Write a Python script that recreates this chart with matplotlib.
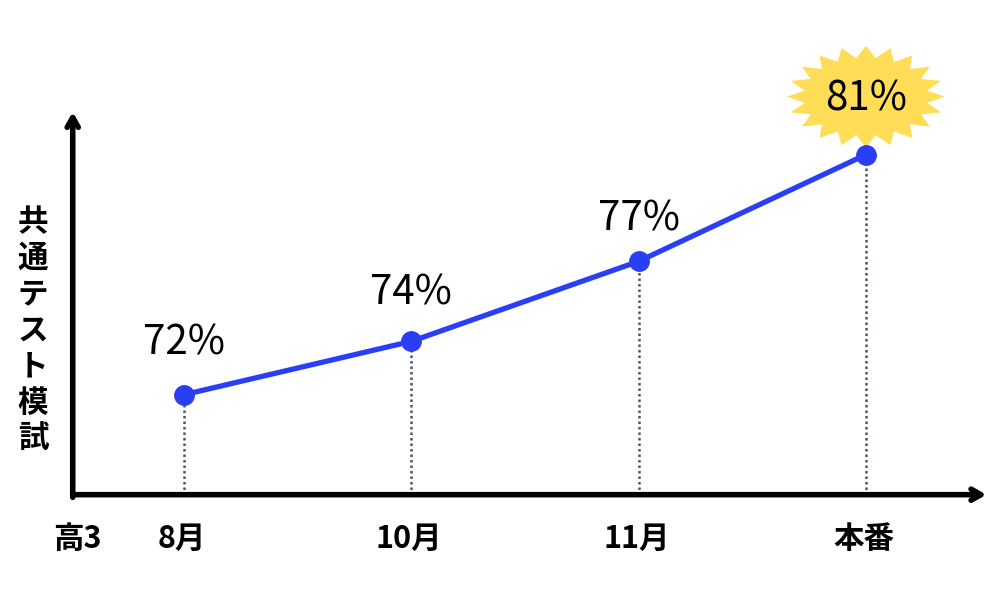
import numpy as np
import matplotlib
matplotlib.use("Agg")
import matplotlib.pyplot as plt
from matplotlib.patches import Polygon
from matplotlib.transforms import ScaledTranslation

plt.rcParams['font.family'] = ['Noto Sans CJK JP', 'DejaVu Sans']

# data
months = ["8月", "10月", "11月", "本番"]
scores = [72, 74, 77, 81]
origin_label = "高3"
y_label = "共通テスト模試"

LINE_BLUE = "#2a3ff5"
DROP_GREY = "#4a5568"
BURST_YELLOW = "#ffdd57"

fig = plt.figure(figsize=(10, 6), dpi=100)
ax = fig.add_axes([0, 0, 1, 1])
ax.set_xlim(-0.81, 3.59)
ax.set_ylim(64.3, 86.8)
ax.axis("off")

x = np.arange(len(months))
x_axis_pos = -0.49
y_axis_pos = 68.25

# axes with arrows
arrow_style = dict(arrowstyle="->,head_length=0.7,head_width=0.4",
                   lw=4.0, color="black", capstyle="round",
                   joinstyle="round", shrinkA=0, shrinkB=0)
ax.annotate("", xy=(x_axis_pos, 82.6), xytext=(x_axis_pos, y_axis_pos - 0.1),
            arrowprops=arrow_style)
ax.annotate("", xy=(3.53, y_axis_pos), xytext=(x_axis_pos, y_axis_pos),
            arrowprops=arrow_style)

# dotted drop lines
for xi, s in zip(x, scores):
    ax.plot([xi, xi], [y_axis_pos, s], ls=(0, (1, 1.2)), lw=1.8,
            color=DROP_GREY, zorder=2)

# main line
ax.plot(x, scores, color=LINE_BLUE, lw=3.8, marker="o", markersize=14,
        zorder=4, solid_capstyle="round")

# starburst behind the last label
n_spikes = 20
ang = np.linspace(0, 2 * np.pi, 2 * n_spikes, endpoint=False) + np.pi / 2
rx = np.where(np.arange(2 * n_spikes) % 2 == 0, 0.79, 0.62)
ry = np.where(np.arange(2 * n_spikes) % 2 == 0, 0.51, 0.39)
verts = np.column_stack([rx * np.cos(ang), ry * np.sin(ang)])
burst_tr = fig.dpi_scale_trans + ScaledTranslation(x[-1], scores[-1], ax.transData) \
    + ScaledTranslation(0, 0.58, fig.dpi_scale_trans)
ax.add_patch(Polygon(verts, closed=True, facecolor=BURST_YELLOW,
                     edgecolor="none", transform=burst_tr, zorder=3))

# value labels
offsets = [52, 48, 42, 56]
for xi, s, off in zip(x, scores, offsets):
    ax.annotate(f"{s}%", xy=(xi, s), xytext=(0, off * 0.72),
                textcoords="offset points", ha="center", va="center",
                fontsize=29, color="black", zorder=5)

# category labels
for xi, m in zip(x, months):
    ax.text(xi - 0.01, 66.6, m, ha="center", va="center", fontsize=22,
            fontweight="bold")
ax.text(x_axis_pos + 0.02, 66.6, origin_label, ha="center", va="center",
        fontsize=22, fontweight="bold")

# vertical y label
ax.text(-0.665, 74.4, "\n".join(y_label), ha="center", va="center",
        fontsize=22, fontweight="bold", linespacing=1.17)

fig.savefig("out.png", dpi=100)
